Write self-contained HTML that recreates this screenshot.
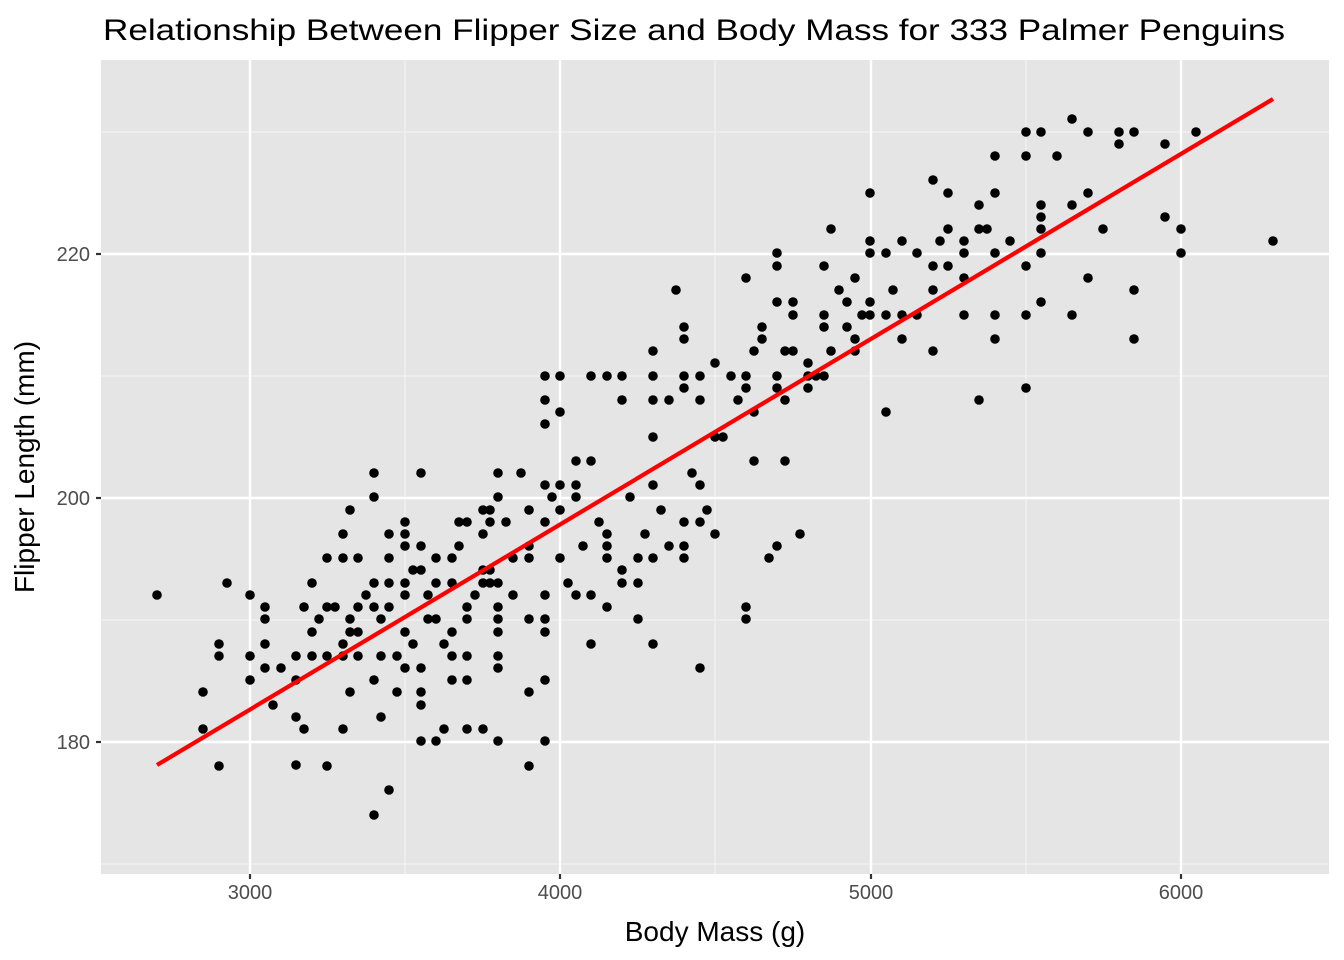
<!DOCTYPE html>
<html><head><meta charset="utf-8"><style>
body{margin:0;background:#fff;}
svg{display:block;font-family:"Liberation Sans",sans-serif;}
</style></head><body>
<svg id="s" width="1344" height="960" xmlns="http://www.w3.org/2000/svg">
<rect x="0" y="0" width="1344" height="960" fill="#fff"/>
<rect x="101" y="60" width="1228" height="814" fill="#e5e5e5"/>
<g stroke="#f2f2f2" stroke-width="1.2">
<line x1="101" x2="1329" y1="132" y2="132"/><line x1="101" x2="1329" y1="376" y2="376"/>
<line x1="101" x2="1329" y1="620" y2="620"/><line x1="101" x2="1329" y1="864" y2="864"/>
<line y1="60" y2="874" x1="405" x2="405"/><line y1="60" y2="874" x1="715" x2="715"/>
<line y1="60" y2="874" x1="1026" x2="1026"/>
</g>
<g stroke="#fff" stroke-width="2.4">
<line x1="101" x2="1329" y1="254" y2="254"/><line x1="101" x2="1329" y1="498" y2="498"/><line x1="101" x2="1329" y1="742" y2="742"/>
<line y1="60" y2="874" x1="250" x2="250"/><line y1="60" y2="874" x1="560" x2="560"/>
<line y1="60" y2="874" x1="871" x2="871"/><line y1="60" y2="874" x1="1181" x2="1181"/>
</g>
<g stroke="#333" stroke-width="2.2">
<line x1="96" x2="101" y1="254" y2="254"/><line x1="96" x2="101" y1="498" y2="498"/><line x1="96" x2="101" y1="742" y2="742"/>
<line y1="874" y2="879" x1="250" x2="250"/><line y1="874" y2="879" x1="560" x2="560"/>
<line y1="874" y2="879" x1="871" x2="871"/><line y1="874" y2="879" x1="1181" x2="1181"/>
</g>
<g fill="#4d4d4d" font-size="20">
<text x="90" y="261" text-anchor="end">220</text><text x="90" y="505" text-anchor="end">200</text><text x="90" y="749" text-anchor="end">180</text>
<text x="250" y="899" text-anchor="middle">3000</text><text x="560" y="899" text-anchor="middle">4000</text>
<text x="871" y="899" text-anchor="middle">5000</text><text x="1181" y="899" text-anchor="middle">6000</text>
</g>
<text x="715" y="941" text-anchor="middle" font-size="28" fill="#000">Body Mass (g)</text>
<text transform="translate(34,467) rotate(-90)" text-anchor="middle" font-size="28" fill="#000">Flipper Length (mm)</text>
<text x="103" y="40" font-size="30" textLength="1182" lengthAdjust="spacingAndGlyphs" fill="#000">Relationship Between Flipper Size and Body Mass for 333 Palmer Penguins</text>
<g id="pts" fill="#000"></g>
<line x1="157" y1="765" x2="1273" y2="99" stroke="#ff0000" stroke-width="4.2"/>
</svg>
<script>
var p=[[157,595],[203,692],[203,729],[219,644],[219,656],[219,766],[227,583],[250,595],[250,680],[265,607],[265,619],[265,644],[265,668],[273,705],[281,668],[296,656],[296,680],[296,717],[304,607],[304,729],[312,656],[312,632],[312,583],[327,558],[327,607],[327,656],[327,766],[335,607],[343,534],[343,558],[343,644],[343,656],[343,729],[350,510],[350,619],[350,632],[350,692],[358,558],[358,607],[358,632],[358,656],[374,473],[374,497],[374,583],[374,607],[374,680],[374,815],[381,619],[381,717],[381,656],[389,534],[389,558],[389,583],[389,607],[389,790],[397,656],[397,692],[405,522],[405,534],[405,546],[405,583],[405,595],[405,632],[405,668],[413,644],[413,570],[421,473],[421,546],[421,570],[421,668],[421,692],[421,705],[421,741],[428,619],[436,741],[436,583],[436,558],[436,619],[444,729],[452,558],[452,583],[452,632],[452,656],[452,680],[459,546],[459,522],[467,522],[467,607],[467,619],[467,656],[467,680],[467,729],[475,595],[483,510],[483,534],[483,570],[483,583],[483,729],[490,510],[490,522],[490,570],[490,583],[498,473],[498,497],[498,583],[498,607],[498,619],[498,632],[498,656],[498,668],[498,741],[506,522],[513,558],[521,473],[529,510],[529,546],[529,558],[529,619],[529,692],[529,766],[545,485],[545,522],[545,595],[545,619],[545,632],[545,680],[545,741],[545,376],[545,400],[545,424],[552,497],[560,376],[560,412],[560,485],[560,510],[560,558],[576,461],[576,485],[576,497],[576,595],[583,546],[591,376],[591,461],[591,595],[591,644],[607,376],[607,534],[607,546],[607,558],[607,607],[622,376],[622,400],[622,570],[622,583],[638,558],[638,583],[638,619],[645,534],[653,351],[653,376],[653,400],[653,437],[653,485],[653,558],[653,644],[669,546],[669,400],[676,290],[684,327],[684,339],[684,376],[684,388],[684,522],[684,546],[684,558],[700,376],[700,400],[700,485],[700,522],[700,668],[707,510],[715,363],[715,437],[715,534],[731,376],[738,400],[746,376],[746,388],[746,278],[746,607],[746,619],[754,351],[754,461],[762,339],[762,327],[769,558],[777,253],[777,266],[777,302],[777,376],[777,388],[777,546],[785,351],[785,461],[793,302],[793,315],[793,351],[800,534],[808,363],[808,376],[808,388],[824,266],[824,315],[824,327],[824,376],[831,351],[831,229],[839,290],[847,302],[847,327],[855,278],[855,339],[862,315],[870,193],[870,241],[870,253],[870,302],[870,315],[886,315],[886,253],[886,412],[902,241],[902,315],[902,339],[917,253],[917,315],[933,180],[933,266],[933,290],[933,351],[948,193],[948,229],[948,266],[964,241],[964,253],[964,278],[964,315],[979,205],[979,229],[979,400],[995,156],[995,193],[995,253],[995,315],[995,339],[1010,241],[1026,132],[1026,156],[1026,266],[1026,315],[1026,388],[1041,132],[1041,205],[1041,217],[1041,229],[1041,253],[1041,302],[1057,156],[1072,119],[1072,205],[1072,315],[1088,132],[1088,193],[1088,278],[1103,229],[1119,132],[1119,144],[1134,132],[1134,290],[1134,339],[1165,144],[1165,217],[1181,229],[1181,253],[1196,132],[1273,241],[296,765],[250,656],[319,619],[366,595],[428,595],[444,644],[513,595],[568,583],[599,522],[630,497],[661,510],[692,473],[723,437],[754,412],[785,400],[816,376],[855,351],[893,290],[940,241],[987,229]];
var g=document.getElementById('pts'),h='';
p.forEach(function(a){h+='<circle cx="'+a[0]+'" cy="'+a[1]+'" r="4.8"/>';});
g.innerHTML=h;
</script>
</body></html>
